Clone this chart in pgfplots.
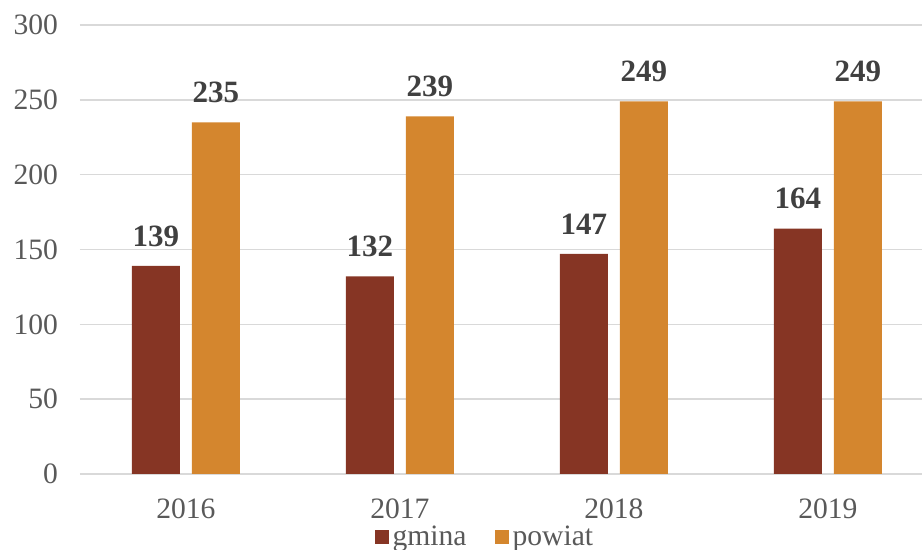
\documentclass[border=0pt]{standalone}
\usepackage{pgfplots}
\pgfplotsset{compat=1.18}
\usepackage{fontspec}
\setmainfont{Liberation Serif}
\definecolor{gmina}{HTML}{863524}
\definecolor{powiat}{HTML}{D4862E}
\definecolor{txt}{HTML}{595959}
\definecolor{lbl}{HTML}{404040}
\definecolor{gridc}{HTML}{D9D9D9}
\begin{document}
\begin{tikzpicture}
\begin{axis}[
  at={(0,0)}, anchor=south west,
  scale only axis, width=421pt, height=224.5pt,
  ymin=0, ymax=300, ytick={0,50,...,300},
  xmin=-0.495, xmax=3.44,
  xtick={0,1,2,3}, xticklabels={2016,2017,2018,2019},
  ybar=6pt, bar width=24pt,
  axis x line*=bottom, axis y line*=left,
  y axis line style={draw=none},
  x axis line style={draw=gridc, line width=1pt},
  major tick length=0pt, tick style={draw=none},
  ymajorgrids, grid style={draw=gridc, line width=0.8pt},
  tick label style={font=\fontsize{14.8}{17}\selectfont, text=txt},
  yticklabel style={xshift=-7.5pt},
  xticklabel style={yshift=-9pt},
  /pgf/number format/assume math mode=true,
  nodes near coords,
  every node near coord/.append style={font=\bfseries\fontsize{15.5}{18}\selectfont, text=lbl, anchor=south, inner sep=0pt, yshift=9.5pt},
  legend style={at={(0.482,0)}, anchor=center, yshift=-31.5pt, draw=none, fill=none, legend columns=2,
    font=\fontsize{14.8}{17}\selectfont, text=txt, inner sep=0pt,
    /tikz/every even column/.append style={column sep=12pt}},
  legend image code/.code={\fill[#1] (0pt,-3.5pt) rectangle (7pt,3.5pt);},
]
\addplot[fill=gmina, draw=none] coordinates {(0,139) (1,132) (2,147) (3,164)};
\addplot[fill=powiat, draw=none] coordinates {(0,235) (1,239) (2,249) (3,249)};
\legend{gmina, powiat}
\end{axis}
\pgfresetboundingbox
\path[use as bounding box] (-40pt,-38pt) rectangle (421pt,237pt);
\end{tikzpicture}
\end{document}
